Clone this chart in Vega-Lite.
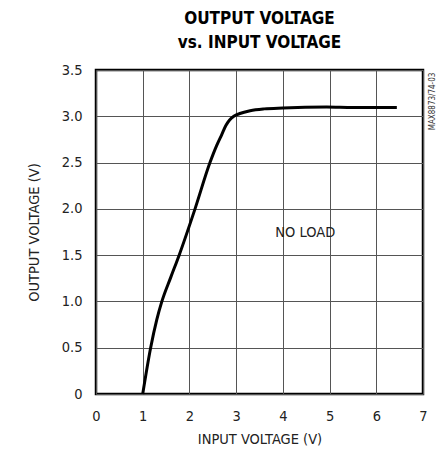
{
  "$schema": "https://vega.github.io/schema/vega-lite/v6.json",
  "width": 327,
  "height": 324,
  "autosize": "none",
  "padding": {"left": 96, "top": 70, "right": 16, "bottom": 63},
  "background": "white",
  "title": {
    "text": ["OUTPUT VOLTAGE", "vs. INPUT VOLTAGE"],
    "font": "DejaVu Sans Condensed, Liberation Sans",
    "fontSize": 17,
    "fontWeight": "bold",
    "color": "black",
    "lineHeight": 24,
    "offset": 10,
    "anchor": "middle"
  },
  "config": {
    "view": {"stroke": "black", "strokeWidth": 2.5},
    "axis": {
      "labelFont": "DejaVu Sans Condensed, Liberation Sans",
      "titleFont": "DejaVu Sans Condensed, Liberation Sans",
      "labelFontSize": 14.5,
      "titleFontSize": 14.5,
      "titleFontWeight": "normal",
      "labelColor": "#222",
      "titleColor": "#222",
      "gridColor": "#555",
      "gridWidth": 1,
      "gridOpacity": 1,
      "ticks": false,
      "domain": false
    }
  },
  "layer": [
    {
      "data": {
        "values": [
          {"vin": 1.0, "vout": 0.0},
          {"vin": 1.17, "vout": 0.5},
          {"vin": 1.3, "vout": 0.8},
          {"vin": 1.41, "vout": 1.0},
          {"vin": 1.6, "vout": 1.26},
          {"vin": 1.78, "vout": 1.5},
          {"vin": 2.12, "vout": 2.0},
          {"vin": 2.44, "vout": 2.5},
          {"vin": 2.58, "vout": 2.68},
          {"vin": 2.69, "vout": 2.8},
          {"vin": 2.78, "vout": 2.9},
          {"vin": 2.86, "vout": 2.96},
          {"vin": 2.95, "vout": 3.0},
          {"vin": 3.08, "vout": 3.03},
          {"vin": 3.3, "vout": 3.06},
          {"vin": 3.6, "vout": 3.08},
          {"vin": 4.0, "vout": 3.09},
          {"vin": 4.94, "vout": 3.1},
          {"vin": 5.5, "vout": 3.095},
          {"vin": 6.44, "vout": 3.095}
        ]
      },
      "mark": {"type": "line", "color": "black", "strokeWidth": 3, "interpolate": "monotone", "strokeJoin": "round"},
      "encoding": {
        "x": {
          "field": "vin",
          "type": "quantitative",
          "scale": {"domain": [0, 7], "nice": false, "zero": false},
          "axis": {
            "title": "INPUT VOLTAGE (V)",
            "values": [0, 1, 2, 3, 4, 5, 6, 7],
            "labelPadding": 15,
            "titlePadding": 10,
            "labelFlush": false
          }
        },
        "y": {
          "field": "vout",
          "type": "quantitative",
          "scale": {"domain": [0, 3.5], "nice": false},
          "axis": {
            "title": "OUTPUT VOLTAGE (V)",
            "values": [0, 0.5, 1, 1.5, 2, 2.5, 3, 3.5],
            "labelExpr": "datum.value == 0 ? '0' : format(datum.value, '.1f')",
            "labelPadding": 14,
            "titlePadding": 20,
            "labelFlush": false
          }
        }
      }
    },
    {
      "data": {"values": [{"vin": 4.48, "vout": 1.74, "label": "NO LOAD"}]},
      "mark": {"type": "text", "font": "DejaVu Sans Condensed, Liberation Sans", "fontSize": 14.5, "color": "#222", "align": "center", "baseline": "middle"},
      "encoding": {
        "x": {"field": "vin", "type": "quantitative"},
        "y": {"field": "vout", "type": "quantitative"},
        "text": {"field": "label"}
      }
    },
    {
      "data": {"values": [{"vin": 7.22, "vout": 3.16, "label": "MAX8873/74-03"}]},
      "mark": {"type": "text", "font": "DejaVu Sans Condensed, Liberation Sans", "fontSize": 8, "color": "#333", "angle": 270, "align": "center", "baseline": "middle"},
      "encoding": {
        "x": {"field": "vin", "type": "quantitative"},
        "y": {"field": "vout", "type": "quantitative"},
        "text": {"field": "label"}
      }
    }
  ]
}
